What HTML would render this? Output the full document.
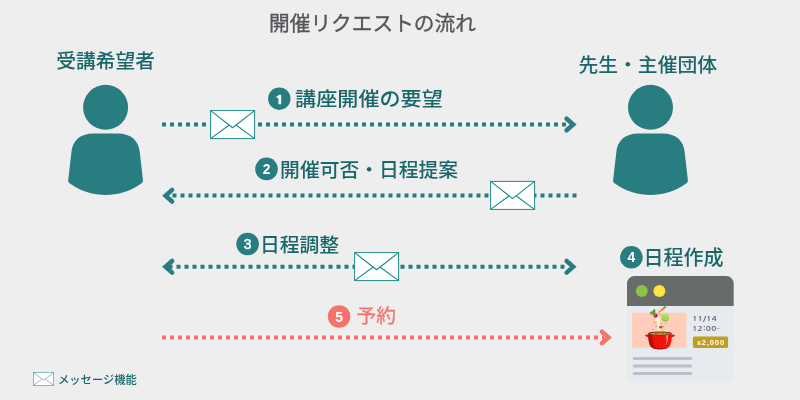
<!DOCTYPE html>
<html lang="ja">
<head>
<meta charset="utf-8">
<title>開催リクエストの流れ</title>
<style>
html,body{margin:0;padding:0;background:#eeeeee;}
body{width:800px;height:400px;overflow:hidden;font-family:"Liberation Sans","Noto Sans CJK JP",sans-serif;}
svg{display:block;will-change:transform;}
text{font-family:"Liberation Sans","Noto Sans CJK JP",sans-serif;}
.jp{font-family:"Noto Sans CJK JP","Liberation Sans",sans-serif;}
.lbl{font-size:19.8px;font-weight:500;fill:#19676b;}
.step{font-size:19.8px;font-weight:500;fill:#19676b;}
.num{font-family:"Liberation Sans",sans-serif;font-size:13.8px;font-weight:700;fill:#fff;text-anchor:middle;}
.dot{stroke:#287d81;stroke-width:4;stroke-dasharray:4 4;fill:none;}
.chev{stroke:#287d81;stroke-width:4.5;fill:none;stroke-linecap:round;stroke-linejoin:miter;}
.env rect{fill:#fff;stroke:#1f8a8c;stroke-width:1;}
.env path{fill:none;stroke:#1f8a8c;stroke-width:1.15;stroke-linejoin:round;}
</style>
</head>
<body>
<svg width="800" height="400" viewBox="0 0 800 400">
<defs>
  <g id="env" class="env">
    <rect x="0.6" y="0.6" width="44" height="28"/>
    <path d="M0.6 0.6 L22.6 17.8 L44.6 0.6"/>
    <path d="M0.6 28.6 L18.9 15.2 M44.6 28.6 L26.3 15.2"/>
  </g>
  <g id="person">
    <circle cx="0" cy="0" r="22.5"/>
    <path d="M-12 26.3 H12 C26 26.3 33.5 34 34.3 46 L37.4 73 Q37.6 75 36 76 C24 84.5 12 87.7 0 87.7 C-12 87.7 -24 84.5 -36 76 Q-37.6 75 -37.4 73 L-34.3 46 C-33.5 34 -26 26.3 -12 26.3 Z"/>
  </g>
</defs>
<rect width="800" height="400" fill="#eeeeee"/>

<text class="jp" x="269" y="31" font-size="20.7" fill="#55565a" stroke="#55565a" stroke-width="0.35">開催リクエストの流れ</text>

<text class="jp lbl" x="56.2" y="67.8">受講希望者</text>
<text class="jp lbl" x="578.5" y="72">先生・主催団体</text>

<use href="#person" x="105.6" y="107.3" fill="#287d81"/>
<use href="#person" x="650.5" y="107.3" fill="#287d81"/>

<!-- row 1 -->
<line class="dot" x1="162" y1="124.5" x2="568" y2="124.5"/>
<path class="chev" d="M566.6 118.7 L573.2 124.5 L566.6 130.3"/>
<use href="#env" x="210" y="110"/>
<circle cx="279.3" cy="98.7" r="11.2" fill="#287d81"/>
<text class="num" transform="translate(279.6,104) scale(1.25,1)" style="font-family:NanumGothic,'Liberation Sans',sans-serif;font-weight:800;font-size:12.1px;stroke:#fff;stroke-width:0.3">1</text>
<text class="jp step" transform="translate(295.1,106.2) scale(1.066,1)" x="0" y="0">講座開催の要望</text>

<!-- row 2 -->
<line class="dot" x1="172.5" y1="195.4" x2="577" y2="195.4"/>
<path class="chev" d="M172.1 189.9 L165.5 195.7 L172.1 201.5"/>
<use href="#env" x="490" y="180.8"/>
<circle cx="266.5" cy="168.9" r="11.3" fill="#287d81"/>
<text class="num" x="266.5" y="174">2</text>
<text class="jp step" x="280.1" y="176.5">開催可否・日程提案</text>

<!-- row 3 -->
<line class="dot" x1="168.5" y1="266.8" x2="566" y2="266.8"/>
<path class="chev" d="M172.1 261 L165.5 266.8 L172.1 272.6"/>
<path class="chev" d="M566.6 261 L573.2 266.8 L566.6 272.6"/>
<use href="#env" x="354" y="252"/>
<circle cx="247.6" cy="244" r="11.3" fill="#287d81"/>
<text class="num" x="247.6" y="249" style="font-weight:400;stroke:#fff;stroke-width:0.45">3</text>
<text class="jp step" x="260" y="251.5">日程調整</text>

<!-- row 4 label -->
<circle cx="631.4" cy="257.3" r="11.3" fill="#287d81"/>
<text class="num" x="631.4" y="262.3">4</text>
<text class="jp step" x="643.4" y="265.2" style="font-size:20px">日程作成</text>

<!-- row 5 -->
<line class="dot" x1="162" y1="337.5" x2="604" y2="337.5" style="stroke:#f4736e"/>
<path class="chev" d="M601.9 331.6 L608.5 337.4 L601.9 343.2" style="stroke:#f4736e"/>
<circle cx="339.1" cy="316.5" r="11.3" fill="#f4736e"/>
<text class="num" x="339.1" y="321.5">5</text>
<text class="jp" x="356.4" y="323.1" font-size="19.8" fill="#f4736e" stroke="#f4736e" stroke-width="0.3">予約</text>

<!-- window -->
<g>
  <path d="M627 306 V283.5 a7.5 7.5 0 0 1 7.5 -7.5 H726.2 a7.5 7.5 0 0 1 7.5 7.5 V306 Z" fill="#676b69"/>
  <path d="M627 306 H733.7 V375.2 a7.5 7.5 0 0 1 -7.5 7.5 H634.5 a7.5 7.5 0 0 1 -7.5 -7.5 Z" fill="#e7ebf0"/>
  <circle cx="641.8" cy="291" r="6" fill="#8cc448"/>
  <circle cx="659.4" cy="291" r="6" fill="#fbe43c"/>
  <rect x="632" y="312.6" width="54.5" height="35.2" fill="#ffcdb9"/>
  <g id="pot">
    <!-- falling vegetables -->
    <path d="M657.2 322 C656.2 325 656.8 329 658.5 332.5 L662 332.5 C661.5 329 661.5 325 660.4 321.5 Z" fill="#fbe9cf" opacity="0.95"/>
    <ellipse cx="657.6" cy="320" rx="2.6" ry="3.4" fill="#fdf0dc"/>
    <ellipse cx="655" cy="322.6" rx="1.9" ry="1.5" fill="#eac08a"/>
    <path d="M658.6 312.6 L663.4 307.4 L664.6 308.6 Z" fill="#f47a20" stroke="#f47a20" stroke-width="0.8" stroke-linejoin="round"/>
    <path d="M663.6 307.6 L664.6 305.4 L666 305.6 L665.4 307.2 L666.6 307.6 L664.8 308.6 Z" fill="#5cae32"/>
    <path d="M649.8 313.8 C650.2 311.4 651.6 310.6 652.4 311.8 C652.4 309.8 654 308.8 655 309.4 C655.8 310.4 655.4 312.6 654.8 314 L653 315 Z" fill="#4aa52e"/>
    <path d="M650.4 314.2 C651.4 312.6 652.6 312.6 653.4 313.6 L652.6 315 Z" fill="#7cc242"/>
    <circle cx="655.6" cy="315.7" r="2.1" fill="#c2213f"/>
    <circle cx="655.1" cy="315.1" r="0.8" fill="#e0607a"/>
    <circle cx="665.3" cy="317.6" r="3.9" fill="#a6d64a"/>
    <path d="M663 315.4 C664.6 314.4 667.4 314.8 668.4 316.8 C667 316 664.6 315.8 663 315.4 Z" fill="#c9e86f"/>
    <path d="M662.2 319 C663.6 320.6 666.8 321 668.6 319.4 C667 321.8 663.4 321.8 662.2 319 Z" fill="#7db83a"/>
    <ellipse cx="660.7" cy="327.2" rx="1.7" ry="1.4" fill="#e8372c"/>
    <circle cx="660.2" cy="326.8" r="0.5" fill="#f7938a"/>
    <g fill="#4f9a2f">
      <circle cx="660.2" cy="314.4" r="0.6"/><circle cx="656.2" cy="326.2" r="0.6"/><circle cx="663" cy="326.6" r="0.55"/>
      <circle cx="652.6" cy="329.4" r="0.5"/><circle cx="662.4" cy="330.2" r="0.5"/><circle cx="661.2" cy="323.4" r="0.5"/>
      <circle cx="658.2" cy="310.6" r="0.45"/><circle cx="665.6" cy="323.6" r="0.45"/>
    </g>
    <g fill="#b8d77a"><circle cx="651.6" cy="325.4" r="0.5"/><circle cx="654.4" cy="319.2" r="0.5"/><circle cx="664.2" cy="328.6" r="0.5"/></g>
    <!-- pot -->
    <path d="M645 335.2 C646.4 334.2 648.6 334.4 649.6 335 L649.8 337.4 C648.2 337.4 646.2 336.8 645 335.2 Z" fill="#d8120e"/>
    <path d="M675.1 335.2 C673.7 334.2 671.5 334.4 670.5 335 L670.3 337.4 C671.9 337.4 673.9 336.8 675.1 335.2 Z" fill="#e3150f"/>
    <path d="M648.4 333.2 H671.7 C671.9 338 671.5 342 670 345.5 C668.5 348.4 664.5 349.3 660 349.3 C655.5 349.3 651.5 348.4 650 345.5 C648.5 342 648.2 338 648.4 333.2 Z" fill="#ee150c"/>
    <path d="M648.4 333.2 H652.4 C652 338 652.6 343.4 655.4 347.6 C657 349 658 349.2 660 349.3 C655.5 349.3 651.5 348.4 650 345.5 C648.5 342 648.2 338 648.4 333.2 Z" fill="#b30c0a" opacity="0.85"/>
    <path d="M652 347.4 C656 348.6 664 348.6 668 347.4 C666 349 663 349.3 660 349.3 C657 349.3 654 349 652 347.4 Z" fill="#a30b0a"/>
    <path d="M665.9 335.2 C666.9 338.2 666.7 342.4 665.5 345.6 C667.3 343.6 668.5 339 667.9 335.2 Z" fill="#ff8f7c"/>
    <ellipse cx="660" cy="333.3" rx="11.7" ry="1.9" fill="#54302a"/>
    <ellipse cx="660" cy="333.7" rx="10.6" ry="1.3" fill="#dc7a22"/>
    <g fill="#4f8f2c"><circle cx="656" cy="333.6" r="0.7"/><circle cx="662.6" cy="333.9" r="0.7"/><circle cx="666.4" cy="333.3" r="0.6"/><circle cx="658.6" cy="333.2" r="0.5"/></g>
    <g fill="#f0a63a"><circle cx="653.4" cy="333.8" r="0.6"/><circle cx="660.4" cy="333.6" r="0.6"/><circle cx="664.4" cy="333.6" r="0.5"/></g>
  </g>
  <rect x="692.9" y="336.5" width="35.2" height="11.4" rx="1.6" fill="#c09f1f"/>
  <text transform="translate(692.2,320.9) scale(1.15,1)" style="font-family:NanumGothic,'Liberation Sans',sans-serif;font-weight:700" font-size="7.3" fill="#5a6275" letter-spacing="0.25">11/14</text>
  <text transform="translate(692.2,331) scale(1.15,1)" style="font-family:NanumGothic,'Liberation Sans',sans-serif;font-weight:700" font-size="7.3" fill="#5a6275" letter-spacing="0.25">12:00-</text>
  <text x="697.2" y="345" font-size="7.8" fill="#fff" font-weight="700" letter-spacing="0.85"><tspan font-size="6.2">¥</tspan>2,000</text>
  <g stroke="#b8bfca" stroke-width="3" stroke-linecap="round">
    <line x1="634.4" y1="358.5" x2="690.6" y2="358.5"/>
    <line x1="634.4" y1="366" x2="690.6" y2="366"/>
    <line x1="634.4" y1="373.5" x2="690.6" y2="373.5"/>
  </g>
</g>

<!-- legend -->
<g transform="translate(33.2,372.2)" fill="none" stroke="#3a9a9c" stroke-width="0.6">
  <rect x="0.3" y="0.3" width="20.2" height="12.8" fill="#fff"/>
  <path d="M0.3 0.3 L10.4 8 L20.5 0.3" stroke-linejoin="round"/>
  <path d="M0.3 13.1 L8.7 6.8 M20.5 13.1 L12.1 6.8"/>
</g>
<text class="jp" x="58" y="384" font-size="11.3" font-weight="500" fill="#19676b">メッセージ機能</text>
</svg>
</body>
</html>
